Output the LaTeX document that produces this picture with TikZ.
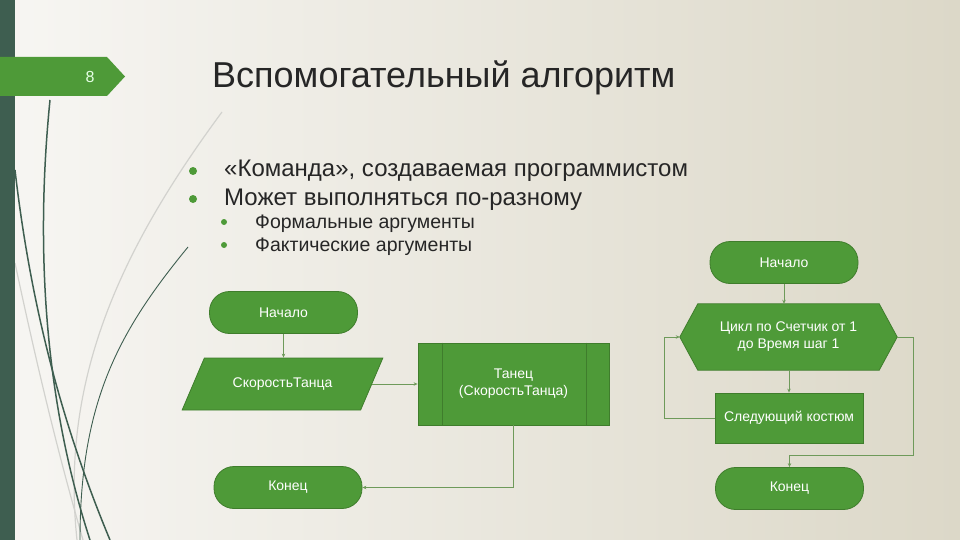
\documentclass[tikz,border=0pt]{standalone}
\usepackage{fontspec}
\setmainfont{Liberation Sans}
\usetikzlibrary{arrows.meta,positioning,shapes.geometric}
\definecolor{slidegreen}{HTML}{4E9A38}
\definecolor{slideborder}{HTML}{3F7D2C}
\definecolor{bardark}{HTML}{3E5E50}
\definecolor{linkgreen}{HTML}{6E9A5A}
\definecolor{paperleft}{HTML}{F7F6F3}
\definecolor{paperright}{HTML}{DCD8C8}
\definecolor{stemgray}{HTML}{D2D2CE}

\begin{document}
\begin{tikzpicture}[x=1pt, y=-1pt,
        termbox/.style={draw=slideborder, fill=slidegreen, thick, rounded corners=20pt, minimum width=148pt, minimum height=42pt, text=white, font=\fontsize{14}{16}\selectfont},
        databox/.style={draw=slideborder, fill=slidegreen, thick, trapezium, trapezium left angle=52, trapezium right angle=128, trapezium stretches=true, minimum width=201pt, minimum height=52pt, text=white, font=\fontsize{14}{16}\selectfont},
        procbox/.style={draw=slideborder, fill=slidegreen, thick, minimum width=#1, minimum height=50pt, text=white, align=center, font=\fontsize{14}{17}\selectfont},
        procbox/.default={148pt},
        loopbox/.style={minimum width=181pt, minimum height=66pt, text=white, align=center, font=\fontsize{14}{17}\selectfont},
        link/.style={-{Stealth[length=4pt, width=3.5pt]}, linkgreen, line width=0.8pt},
        stem/.style={bardark, line width=#1},
        stem/.default={1.5pt},
        bigdot/.style={circle, fill=slidegreen, inner sep=0pt, minimum size=#1},
    ]
    \useasboundingbox (0,0) rectangle (960,540);
    % === Background ===
    \shade[left color=paperleft, right color=paperright] (0,0) rectangle (960,540);
    \draw[stemgray, line width=1.2pt] (222,112) .. controls (120,250) and (60,380) .. (77,540);
    \draw[stemgray, line width=1.2pt] (15,263) .. controls (40,380) and (60,460) .. (83,540);
    \draw[stem] (50,100) .. controls (38,220) and (38,380) .. (90,540);
    \draw[stem] (15,170) .. controls (30,300) and (60,420) .. (110,540);
    \draw[stem=0.9pt] (188,247) .. controls (120,330) and (80,400) .. (80,540);
    \fill[bardark] (0,0) rectangle (15,540);

    % === Slide number and title ===
    \fill[slidegreen] (0,57) -- (107,57) -- (125,76.5) -- (107,96) -- (0,96) -- cycle;
    \node[text=green!10!white, font=\fontsize{16}{18}\selectfont] (num) at (90,77) {8};
    \node[anchor=base west, inner sep=0pt, text=black!85, font=\fontsize{36}{40}\selectfont] (title) at (212,88) {Вспомогательный алгоритм};

    % === Bullets ===
    \node[bigdot=8pt] (d1) at (193,171) {};
    \node[bigdot=8pt] (d2) at (193,199) {};
    \node[bigdot=6pt] (d3) at (224,222) {};
    \node[bigdot=6pt] (d4) at (224,245) {};
    \node[anchor=base west, inner sep=0pt, text=black!85, font=\fontsize{24}{28}\selectfont] (b1) at (224,177) {«Команда», создаваемая программистом};
    \node[anchor=base west, inner sep=0pt, text=black!85, font=\fontsize{24}{28}\selectfont] (b2) at (224,205) {Может выполняться по-разному};
    \node[anchor=base west, inner sep=0pt, text=black!85, font=\fontsize{19.5}{22}\selectfont] (b3) at (255,228) {Формальные аргументы};
    \node[anchor=base west, inner sep=0pt, text=black!85, font=\fontsize{19.5}{22}\selectfont] (b4) at (255,251) {Фактические аргументы};

    % === Left flowchart ===
    \node[termbox] (start1) at (283.5,312.5) {Начало};
    \node[databox] (speed) at (282.5,384) {СкоростьТанца};
    \node[procbox=191pt, minimum height=82pt] (dance) at (513.5,384) {Танец\\(СкоростьТанца)};
    \draw[slideborder, thick] ([xshift=25pt]dance.north west) -- ([xshift=25pt]dance.south west);
    \draw[slideborder, thick] ([xshift=-23pt]dance.north east) -- ([xshift=-23pt]dance.south east);
    \node[termbox] (end1) at (288,487.5) {Конец};
    \draw[link] (start1) -- (start1 |- speed.north);
    \draw[link] (speed.east) -- (dance.west);
    \draw[link] (dance.south) |- (end1.east);

    % === Right flowchart ===
    \node[termbox] (start2) at (784,262.5) {Начало};
    \node[loopbox] (loop) at (788.5,337) {};
    \coordinate (loopL) at ([xshift=-18pt]loop.west);
    \coordinate (loopR) at ([xshift=18pt]loop.east);
    \draw[slideborder, fill=slidegreen, thick] (loop.north west) -- (loop.north east) -- (loopR) -- (loop.south east) -- (loop.south west) -- (loopL) -- cycle;
    \node[loopbox] (looptext) at (loop) {Цикл по Счетчик от 1\\до Время шаг 1};
    \node[procbox] (next) at (789,418) {Следующий костюм};
    \node[termbox] (end2) at (789.5,488.5) {Конец};
    \coordinate (exitc) at (913,455);
    \draw[link] (start2) -- (start2 |- loop.north);
    \draw[link] (loop.south -| next.north) -- (next.north);
    \draw[link] (next.west) -- ++(-50,0) |- (loopL);
    \draw[link] (loopR) -| (exitc) -| (end2.north);

\end{tikzpicture}
\end{document}
